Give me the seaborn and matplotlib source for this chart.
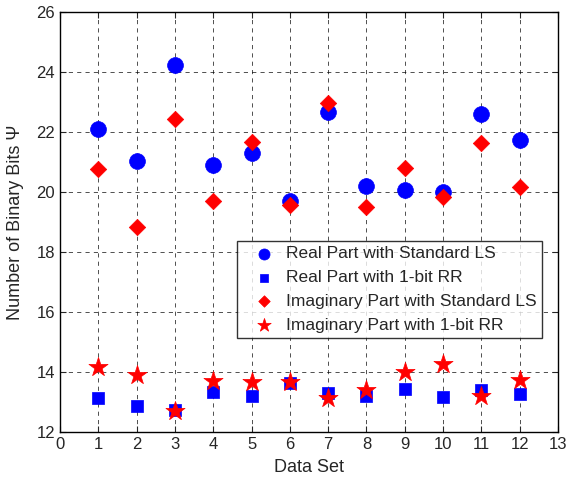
import numpy as np
import pandas as pd
import matplotlib
matplotlib.use('Agg')
import matplotlib.pyplot as plt
import seaborn as sns

data_set = list(range(1, 13))
real_ls = [22.1, 21.03, 24.24, 20.91, 21.3, 19.71, 22.66, 20.21, 20.08, 19.99, 22.61, 21.72]
real_rr = [13.13, 12.86, 12.73, 13.32, 13.21, 13.64, 13.29, 13.2, 13.42, 13.17, 13.39, 13.27]
imag_ls = [20.78, 18.82, 22.42, 19.71, 21.67, 19.56, 22.98, 19.49, 20.79, 19.83, 21.62, 20.16]
imag_rr = [14.18, 13.9, 12.69, 13.71, 13.66, 13.66, 13.13, 13.39, 14.01, 14.26, 13.21, 13.73]

series = ['Real Part with Standard LS', 'Real Part with 1-bit RR',
          'Imaginary Part with Standard LS', 'Imaginary Part with 1-bit RR']

df = pd.DataFrame({
    'Data Set': data_set * 4,
    'Bits': real_ls + real_rr + imag_ls + imag_rr,
    'Series': np.repeat(series, 12),
})

sns.set_style('ticks')
plt.rcParams['font.family'] = ['Liberation Sans', 'DejaVu Sans']

fig = plt.figure(figsize=(5.69, 4.79), dpi=100)
ax = fig.add_axes([60 / 569, 47 / 479, 498 / 569, 420 / 479])

styles = {
    series[0]: ('blue', 'o', 130),
    series[1]: ('blue', 's', 80),
    series[2]: ('red', 'D', 70),
    series[3]: ('red', '*', 210),
}
for name in series:
    c, m, s = styles[name]
    sns.scatterplot(data=df[df['Series'] == name], x='Data Set', y='Bits',
                    color=c, marker=m, s=s, edgecolor=c, linewidth=0.5,
                    label=name, ax=ax, zorder=3)

ax.set_xlim(0, 13)
ax.set_ylim(12, 26)
ax.set_xticks(range(0, 14))
ax.set_yticks(range(12, 27, 2))
ax.grid(True, color='black', linestyle=(0, (5, 5)), linewidth=0.6, alpha=0.8)
ax.tick_params(direction='in', top=True, right=True, labelsize=12, length=4)
for sp in ax.spines.values():
    sp.set_linewidth(1.0)
    sp.set_color('black')
ax.set_xlabel('Data Set', fontsize=13, labelpad=5)
ax.set_ylabel('Number of Binary Bits Ψ', fontsize=13, labelpad=9)

leg = ax.legend(loc='upper left', bbox_to_anchor=((237 - 60) / 498, (432 - 241) / 420),
                frameon=True, fancybox=False, edgecolor='black', fontsize=12.5,
                markerscale=0.7, handlelength=2.5, borderpad=0.3,
                labelspacing=0.5, handletextpad=0.05, borderaxespad=0)
leg.get_frame().set_linewidth(1.0)
for h in leg.legend_handles:
    h.set_alpha(1)

plt.savefig('out.png', dpi=100)
